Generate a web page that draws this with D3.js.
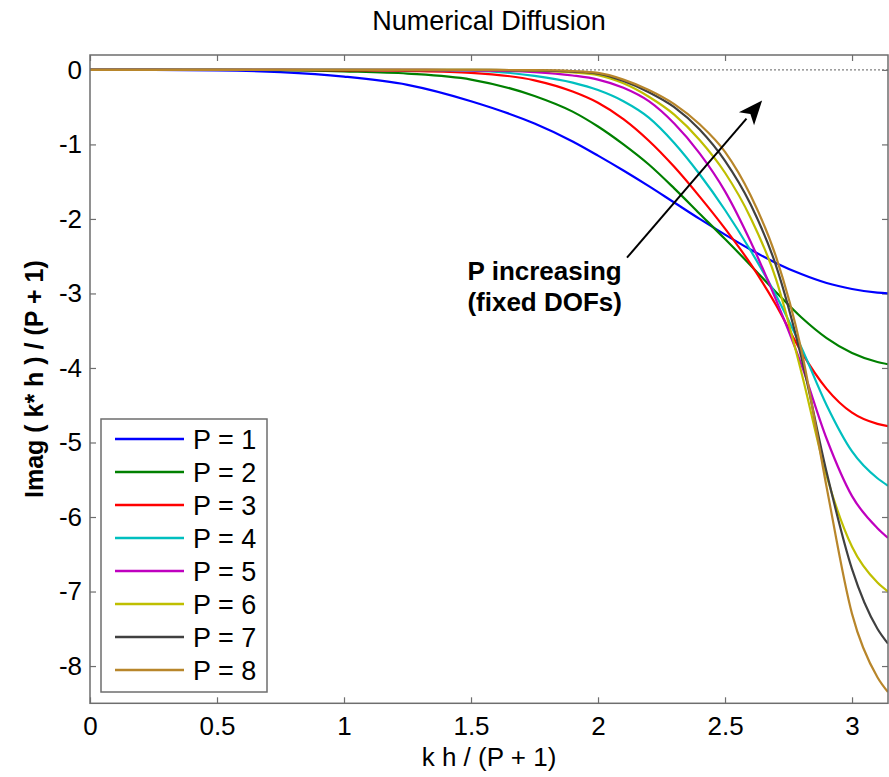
<!DOCTYPE html>
<head>
  <meta charset="utf-8">
  <script src="https://d3js.org/d3.v7.min.js"></script>
  <style>
    body { margin:0; background:#fff; }
    text { font-family: "Liberation Sans", Arial, Helvetica, sans-serif; fill:#000; }
    .frame { fill:none; stroke:#6e6e6e; stroke-width:1.5; }
    .tick line { stroke:#6e6e6e; stroke-width:1.2; }
    .tick text { font-size:26px; }
  </style>
</head>

<body>
  <script>
  // ---------- data ----------
    var kh = [0, 0.25, 0.5, 0.75, 1.0, 1.25, 1.5, 1.75, 1.9, 2.0, 2.1, 2.2, 2.3, 2.4, 2.5, 2.6, 2.7, 2.8, 2.9, 3.0, 3.1, Math.PI];

    var p1 = [0, 0, -0.005, -0.03, -0.09, -0.2, -0.42, -0.72, -0.96, -1.15, -1.35, -1.56, -1.78, -2.0, -2.21, -2.41, -2.59, -2.74, -2.86, -2.94, -2.99, -3.0];
    var p2 = [0, 0, 0, -0.003, -0.02, -0.05, -0.13, -0.35, -0.56, -0.76, -1.0, -1.27, -1.59, -1.93, -2.27, -2.62, -2.98, -3.32, -3.6, -3.8, -3.92, -3.95];
    var p3 = [0, 0, 0, 0, -0.005, -0.015, -0.04, -0.14, -0.29, -0.44, -0.66, -0.95, -1.3, -1.7, -2.13, -2.6, -3.15, -3.78, -4.28, -4.6, -4.75, -4.78];
    var p4 = [0, 0, 0, 0, 0, -0.003, -0.01, -0.08, -0.17, -0.27, -0.42, -0.64, -0.98, -1.4, -1.88, -2.42, -3.02, -3.72, -4.5, -5.12, -5.48, -5.58];
    var p5 = [0, 0, 0, 0, 0, 0, -0.005, -0.03, -0.075, -0.13, -0.24, -0.42, -0.72, -1.12, -1.63, -2.3, -3.08, -3.95, -4.95, -5.72, -6.15, -6.28];
    var p6 = [0, 0, 0, 0, 0, 0, 0, -0.01, -0.035, -0.07, -0.18, -0.36, -0.6, -0.94, -1.38, -1.98, -2.8, -4.05, -5.45, -6.4, -6.88, -7.0];
    var p7 = [0, 0, 0, 0, 0, 0, 0, -0.005, -0.022, -0.05, -0.15, -0.3, -0.5, -0.8, -1.22, -1.8, -2.62, -3.85, -5.4, -6.7, -7.5, -7.7];
    var p8 = [0, 0, 0, 0, 0, 0, 0, -0.003, -0.016, -0.04, -0.13, -0.27, -0.46, -0.73, -1.1, -1.68, -2.5, -3.75, -5.6, -7.3, -8.15, -8.35];

    var series = [p1, p2, p3, p4, p5, p6, p7, p8];
    var names = ["P = 1", "P = 2", "P = 3", "P = 4", "P = 5", "P = 6", "P = 7", "P = 8"];
    var colors = ["#0000ff", "#008000", "#ff0000", "#00bfbf", "#bf00bf", "#bfbf00", "#404040", "#b8862b"];

    var xTicks = [0, 0.5, 1, 1.5, 2, 2.5, 3];
    var yTicks = [0, -1, -2, -3, -4, -5, -6, -7, -8];

    // arrow annotation, in data units
    var arrowFrom = [2.114, -2.52],
        arrowTo = [2.646, -0.41];
    var noteAt = [1.79, -2.82];
    var noteLines = ["P increasing", "(fixed DOFs)"];

  // ---------- svg + scales ----------
    var W = 889, H = 777;
    var svg = d3.select("body").append("svg")
      .attr("width", W)
      .attr("height", H);

    var plot = { left: 90, right: 888, top: 55, bottom: 703.3 };

    var x = d3.scaleLinear().domain([0, Math.PI]).range([plot.left, plot.right]);
    var y = d3.scaleLinear().domain([-8.5, 0.2]).range([plot.bottom, plot.top]);

    svg.append("defs").append("clipPath")
      .attr("id", "clip")
      .append("rect")
      .attr("x", plot.left).attr("y", plot.top)
      .attr("width", plot.right - plot.left)
      .attr("height", plot.bottom - plot.top);

  // ---------- axes (MATLAB style, inward ticks on all sides) ----------
    var fmt = d => d.toString();

    svg.append("g")
      .attr("transform", "translate(0," + plot.bottom + ")")
      .call(d3.axisBottom(x).tickValues(xTicks).tickFormat(fmt).tickSizeInner(-6).tickSizeOuter(0).tickPadding(13))
      .call(g => g.select(".domain").remove());

    svg.append("g")
      .attr("transform", "translate(0," + plot.top + ")")
      .call(d3.axisTop(x).tickValues(xTicks).tickFormat("").tickSizeInner(-6).tickSizeOuter(0))
      .call(g => g.select(".domain").remove());

    svg.append("g")
      .attr("transform", "translate(" + plot.left + ",0)")
      .call(d3.axisLeft(y).tickValues(yTicks).tickFormat(fmt).tickSizeInner(-6).tickSizeOuter(0).tickPadding(8))
      .call(g => g.select(".domain").remove());

    svg.append("g")
      .attr("transform", "translate(" + plot.right + ",0)")
      .call(d3.axisRight(y).tickValues(yTicks).tickFormat("").tickSizeInner(-6).tickSizeOuter(0))
      .call(g => g.select(".domain").remove());

    svg.selectAll(".tick text").style("font-size", "26px").attr("fill", "#000");

    // dotted zero line
    svg.append("line")
      .attr("x1", plot.left).attr("x2", plot.right)
      .attr("y1", y(0)).attr("y2", y(0))
      .attr("stroke", "#808080")
      .attr("stroke-width", 1.2)
      .attr("stroke-dasharray", "2,2");

  // ---------- curves ----------
    var line = d3.line()
      .x((d, i) => x(kh[i]))
      .y(d => y(d))
      .curve(d3.curveMonotoneX);

    svg.append("g")
      .attr("clip-path", "url(#clip)")
      .selectAll("path")
      .data(series)
      .enter().append("path")
      .attr("d", line)
      .attr("fill", "none")
      .attr("stroke", (d, i) => colors[i])
      .attr("stroke-width", 2.2);

    svg.append("rect")
      .attr("class", "frame")
      .attr("x", plot.left).attr("y", plot.top)
      .attr("width", plot.right - plot.left)
      .attr("height", plot.bottom - plot.top);

  // ---------- arrow + note ----------
    var ax0 = x(arrowFrom[0]), ay0 = y(arrowFrom[1]),
        ax1 = x(arrowTo[0]), ay1 = y(arrowTo[1]);
    var ang = Math.atan2(ay1 - ay0, ax1 - ax0);
    var headLen = 24, headW = 10;
    var bx = ax1 - headLen * Math.cos(ang), by = ay1 - headLen * Math.sin(ang);

    svg.append("line")
      .attr("x1", ax0).attr("y1", ay0)
      .attr("x2", bx).attr("y2", by)
      .attr("stroke", "#000")
      .attr("stroke-width", 2);

    svg.append("path")
      .attr("d", "M" + ax1 + "," + ay1 +
        "L" + (bx + headW * Math.sin(ang)) + "," + (by - headW * Math.cos(ang)) +
        "L" + (ax1 - 0.75 * headLen * Math.cos(ang)) + "," + (ay1 - 0.75 * headLen * Math.sin(ang)) +
        "L" + (bx - headW * Math.sin(ang)) + "," + (by + headW * Math.cos(ang)) + "Z")
      .attr("fill", "#000");

    svg.selectAll(".note")
      .data(noteLines)
      .enter().append("text")
      .attr("class", "note")
      .attr("x", x(noteAt[0]))
      .attr("y", (d, i) => y(noteAt[1]) + i * 31)
      .attr("text-anchor", "middle")
      .style("font-size", "26px")
      .style("font-weight", "bold")
      .text(d => d);

  // ---------- legend ----------
    var legend = svg.append("g");
    legend.append("rect")
      .attr("class", "frame")
      .attr("x", 101).attr("y", 419)
      .attr("width", 166).attr("height", 273)
      .style("fill", "#fff");

    var item = legend.selectAll(".item")
      .data(names)
      .enter().append("g")
      .attr("transform", (d, i) => "translate(0," + (439 + i * 33) + ")");

    item.append("line")
      .attr("x1", 115).attr("x2", 184)
      .attr("stroke", (d, i) => colors[i])
      .attr("stroke-width", 2.4);

    item.append("text")
      .attr("x", 193)
      .attr("dy", "0.36em")
      .style("font-size", "27px")
      .text(d => d);

  // ---------- titles ----------
    svg.append("text")
      .attr("x", 489).attr("y", 30)
      .attr("text-anchor", "middle")
      .style("font-size", "27px")
      .text("Numerical Diffusion");

    svg.append("text")
      .attr("x", 489).attr("y", 766)
      .attr("text-anchor", "middle")
      .style("font-size", "26px")
      .text("k h / (P + 1)");

    svg.append("text")
      .attr("transform", "translate(43," + ((plot.top + plot.bottom) / 2) + ") rotate(-90)")
      .attr("text-anchor", "middle")
      .style("font-size", "25px")
      .style("font-weight", "bold")
      .text("Imag ( k* h ) / (P + 1)");
  </script>
</body>
